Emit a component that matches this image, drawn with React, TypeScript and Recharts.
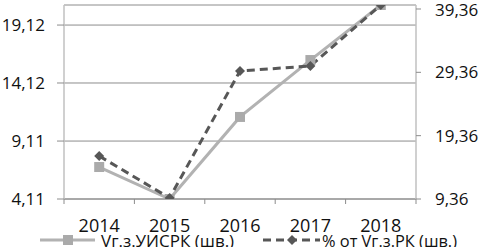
import React from 'react';
import { LineChart, Line, XAxis, YAxis, CartesianGrid, Legend } from 'recharts';

const years = ['2014', '2015', '2016', '2017', '2018'];
const volumeUISRK = [6.87, 4.11, 11.19, 16.1, 20.85];
const shareRK = [16.15, 9.52, 29.57, 30.36, 39.99];
const leftTicks = [4.11, 9.11, 14.12, 19.12];
const rightTicks = [9.36, 19.36, 29.36, 39.36];
const seriesNames = ['Vг.з.УИСРК (шв.)', '% от Vг.з.РК (шв.)'];

const data = years.map((y, i) => ({ year: y, a: volumeUISRK[i], b: shareRK[i] }));

const FONT = '"Open Sans", sans-serif';
const LIGHT = '#b2b2b2';
const DARK = '#575757';
const HALF = 35.2;

const fmt = (v: number) => v.toFixed(2).replace('.', ',');

const XTick = (props: any) => {
  const { x, y, payload, index } = props;
  return (
    <g>
      <line x1={x - HALF} y1={y} x2={x - HALF} y2={y + 5} stroke="#8c8c8c" />
      {index === years.length - 1 && (
        <line x1={x + HALF} y1={y} x2={x + HALF} y2={y + 5} stroke="#8c8c8c" />
      )}
      <text x={x} y={y + 33} textAnchor="middle" fontFamily={FONT} fontSize={18} fill="#111">
        {payload.value}
      </text>
    </g>
  );
};

const SquareDot = (props: any) => {
  const { cx, cy } = props;
  if (cx == null || cy == null) return null;
  return <rect x={cx - 5} y={cy - 5} width={10} height={10} fill="#aaaaaa" />;
};

const DiamondDot = (props: any) => {
  const { cx, cy } = props;
  if (cx == null || cy == null) return null;
  return (
    <polygon
      points={`${cx},${cy - 5} ${cx + 5},${cy} ${cx},${cy + 5} ${cx - 5},${cy}`}
      fill={DARK}
    />
  );
};

const LegendContent = () => (
  <svg width={482} height={18} style={{ display: 'block', overflow: 'visible' }}>
    <line x1={40} y1={11} x2={95} y2={11} stroke={LIGHT} strokeWidth={3} />
    <rect x={63} y={6} width={10} height={10} fill="#aaaaaa" />
    <text x={101} y={18} fontFamily={FONT} fontSize={17} fill="#111">
      {seriesNames[0]}
    </text>
    <line x1={263} y1={11} x2={320} y2={11} stroke={DARK} strokeWidth={3} strokeDasharray="8 5" />
    <polygon points="292,6 297,11 292,16 287,11" fill={DARK} />
    <text x={322} y={18} fontFamily={FONT} fontSize={17} fill="#111" textLength={135} lengthAdjust="spacingAndGlyphs">
      {seriesNames[1]}
    </text>
  </svg>
);

export default function App() {
  return (
    <div style={{ position: 'absolute', left: 0, top: 0, width: 482, height: 247, background: '#fff' }}>
      <LineChart width={482} height={247} data={data} margin={{ top: 5, right: 0, left: 0, bottom: 0 }}>
        <CartesianGrid horizontal vertical={false} yAxisId="left" stroke="#8c8c8c" />
        <XAxis
          dataKey="year"
          height={30}
          padding={{ left: HALF, right: HALF }}
          axisLine={{ stroke: '#8c8c8c' }}
          tickLine={false}
          tickSize={0}
          tickMargin={0}
          interval={0}
          tick={<XTick />}
        />
        <YAxis
          yAxisId="left"
          orientation="left"
          width={64}
          domain={[4.11, 20.85]}
          ticks={leftTicks}
          tickFormatter={fmt}
          axisLine={{ stroke: '#c0c0c0', strokeWidth: 1.5 }}
          tickLine={{ stroke: '#8c8c8c' }}
          tickSize={7}
          tickMargin={12}
          tick={{ fontFamily: FONT, fontSize: 17, fill: '#111' }}
          allowDataOverflow
        />
        <YAxis
          yAxisId="right"
          orientation="right"
          width={66}
          domain={[9.36, 39.99]}
          ticks={rightTicks}
          tickFormatter={fmt}
          axisLine={{ stroke: '#c0c0c0', strokeWidth: 1.5 }}
          tickLine={{ stroke: '#8c8c8c' }}
          tickSize={5}
          tickMargin={14}
          tick={{ fontFamily: FONT, fontSize: 17, fill: '#111' }}
          allowDataOverflow
        />
        <Legend
          verticalAlign="bottom"
          content={<LegendContent />}
          wrapperStyle={{ left: 0, bottom: 0, width: 482, height: 18 }}
        />
        <Line
          yAxisId="left"
          dataKey="a"
          name={seriesNames[0]}
          stroke={LIGHT}
          strokeWidth={3}
          dot={<SquareDot />}
          activeDot={false}
          isAnimationActive={false}
        />
        <Line
          yAxisId="right"
          dataKey="b"
          name={seriesNames[1]}
          stroke={DARK}
          strokeWidth={3}
          strokeDasharray="8 5"
          dot={<DiamondDot />}
          activeDot={false}
          isAnimationActive={false}
        />
      </LineChart>
    </div>
  );
}
